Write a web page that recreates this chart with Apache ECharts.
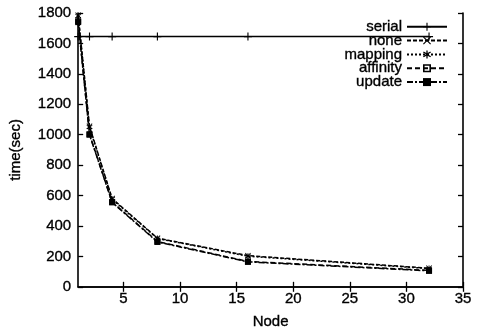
<!DOCTYPE html>
<html><head><meta charset="utf-8">
<script src="https://cdn.jsdelivr.net/npm/echarts@6/dist/echarts.min.js"></script>
<style>html,body{margin:0;padding:0;background:#fff}#c{width:477px;height:335px}</style>
</head><body><div id="c"></div>
<script>
const nodes = [1, 2, 4, 8, 16, 32];
const serial = [1645, 1645, 1645, 1645, 1645, 1645];
const none = [1785, 1055, 580, 320, 205, 122];
const mapping = [1780, 1050, 576, 318, 201, 120];
const affinity = [1745, 1003, 558, 298, 167, 108];
const update = [1740, 1000, 555, 295, 164, 105];
const xTicks = [5, 10, 15, 20, 25, 30, 35];

const font = '"Liberation Sans", Arial, sans-serif';
const txt = {fontFamily: font, fontSize: 15, color: '#000', textBorderColor: '#000', textBorderWidth: 0.35};
const pair = arr => nodes.map((n, i) => [n, arr[i]]);
const sym = {
  plus: 'path://M4.3,0H5.7V4.3H10V5.7H5.7V10H4.3V5.7H0V4.3H4.3Z',
  cross: 'path://M1,0L5,4L9,0L10,1L6,5L10,9L9,10L5,6L1,10L0,9L4,5L0,1Z',
  star: 'path://M4.3,0H5.7V3.3L8.5,1.5L9.3,2.7L6.5,4.4V5.6L9.3,7.3L8.5,8.5L5.7,6.7V10H4.3V6.7L1.5,8.5L0.7,7.3L3.5,5.6V4.4L0.7,2.7L1.5,1.5L4.3,3.3Z',
  osq: 'path://M0,0H10V10H0ZM2,2V8H8V2Z'
};
function mk(name, data, dash, symbol, size) {
  return {
    name, type: 'line', data: pair(data), symbol, symbolSize: size,
    lineStyle: {color: '#000', width: 1.5, type: dash},
    itemStyle: {color: '#000'},
    animation: false
  };
}
const chart = echarts.init(document.getElementById('c'));
const tickStyle = {show: true, inside: true, length: 5, lineStyle: {color: '#000', width: 1.3}};
const axLine = {show: true, lineStyle: {color: '#000', width: 1.6}};
chart.setOption({
  animation: false,
  grid: {left: 75, right: 14, top: 13, bottom: 47},
  legend: {
    orient: 'vertical', right: 29, top: 19, align: 'right', padding: 0,
    itemWidth: 40, itemHeight: 10, itemGap: -1.5,
    textStyle: Object.assign({lineHeight: 14}, txt),
    data: ['serial', 'none', 'mapping', 'affinity', 'update']
  },
  xAxis: [{
    type: 'value', min: 1, max: 35, name: 'Node', nameLocation: 'middle', nameGap: 28,
    nameTextStyle: txt,
    axisLine: axLine,
    axisTick: Object.assign({customValues: xTicks}, tickStyle),
    axisLabel: Object.assign({customValues: xTicks, margin: 5}, txt),
    splitLine: {show: false}
  }, {
    type: 'value', min: 1, max: 35, position: 'top',
    axisLine: axLine,
    axisTick: Object.assign({customValues: xTicks}, tickStyle),
    axisLabel: {show: false},
    splitLine: {show: false}
  }],
  yAxis: [{
    type: 'value', min: 0, max: 1800, interval: 200, name: 'time(sec)', nameLocation: 'middle', nameGap: 55,
    nameTextStyle: txt,
    axisLine: axLine,
    axisTick: tickStyle,
    axisLabel: Object.assign({margin: 7, formatter: v => String(v)}, txt),
    splitLine: {show: false}
  }, {
    type: 'value', min: 0, max: 1800, interval: 200, position: 'right',
    axisLine: axLine,
    axisTick: tickStyle,
    axisLabel: {show: false},
    splitLine: {show: false}
  }],
  series: [
    mk('serial', serial, 'solid', sym.plus, 8),
    mk('none', none, [4, 2], sym.cross, 6),
    mk('mapping', mapping, [2, 2], sym.star, 6),
    mk('affinity', affinity, [5, 3], sym.osq, 6),
    mk('update', update, [6, 2, 2, 2], 'rect', 6)
  ]
});
</script></body></html>
